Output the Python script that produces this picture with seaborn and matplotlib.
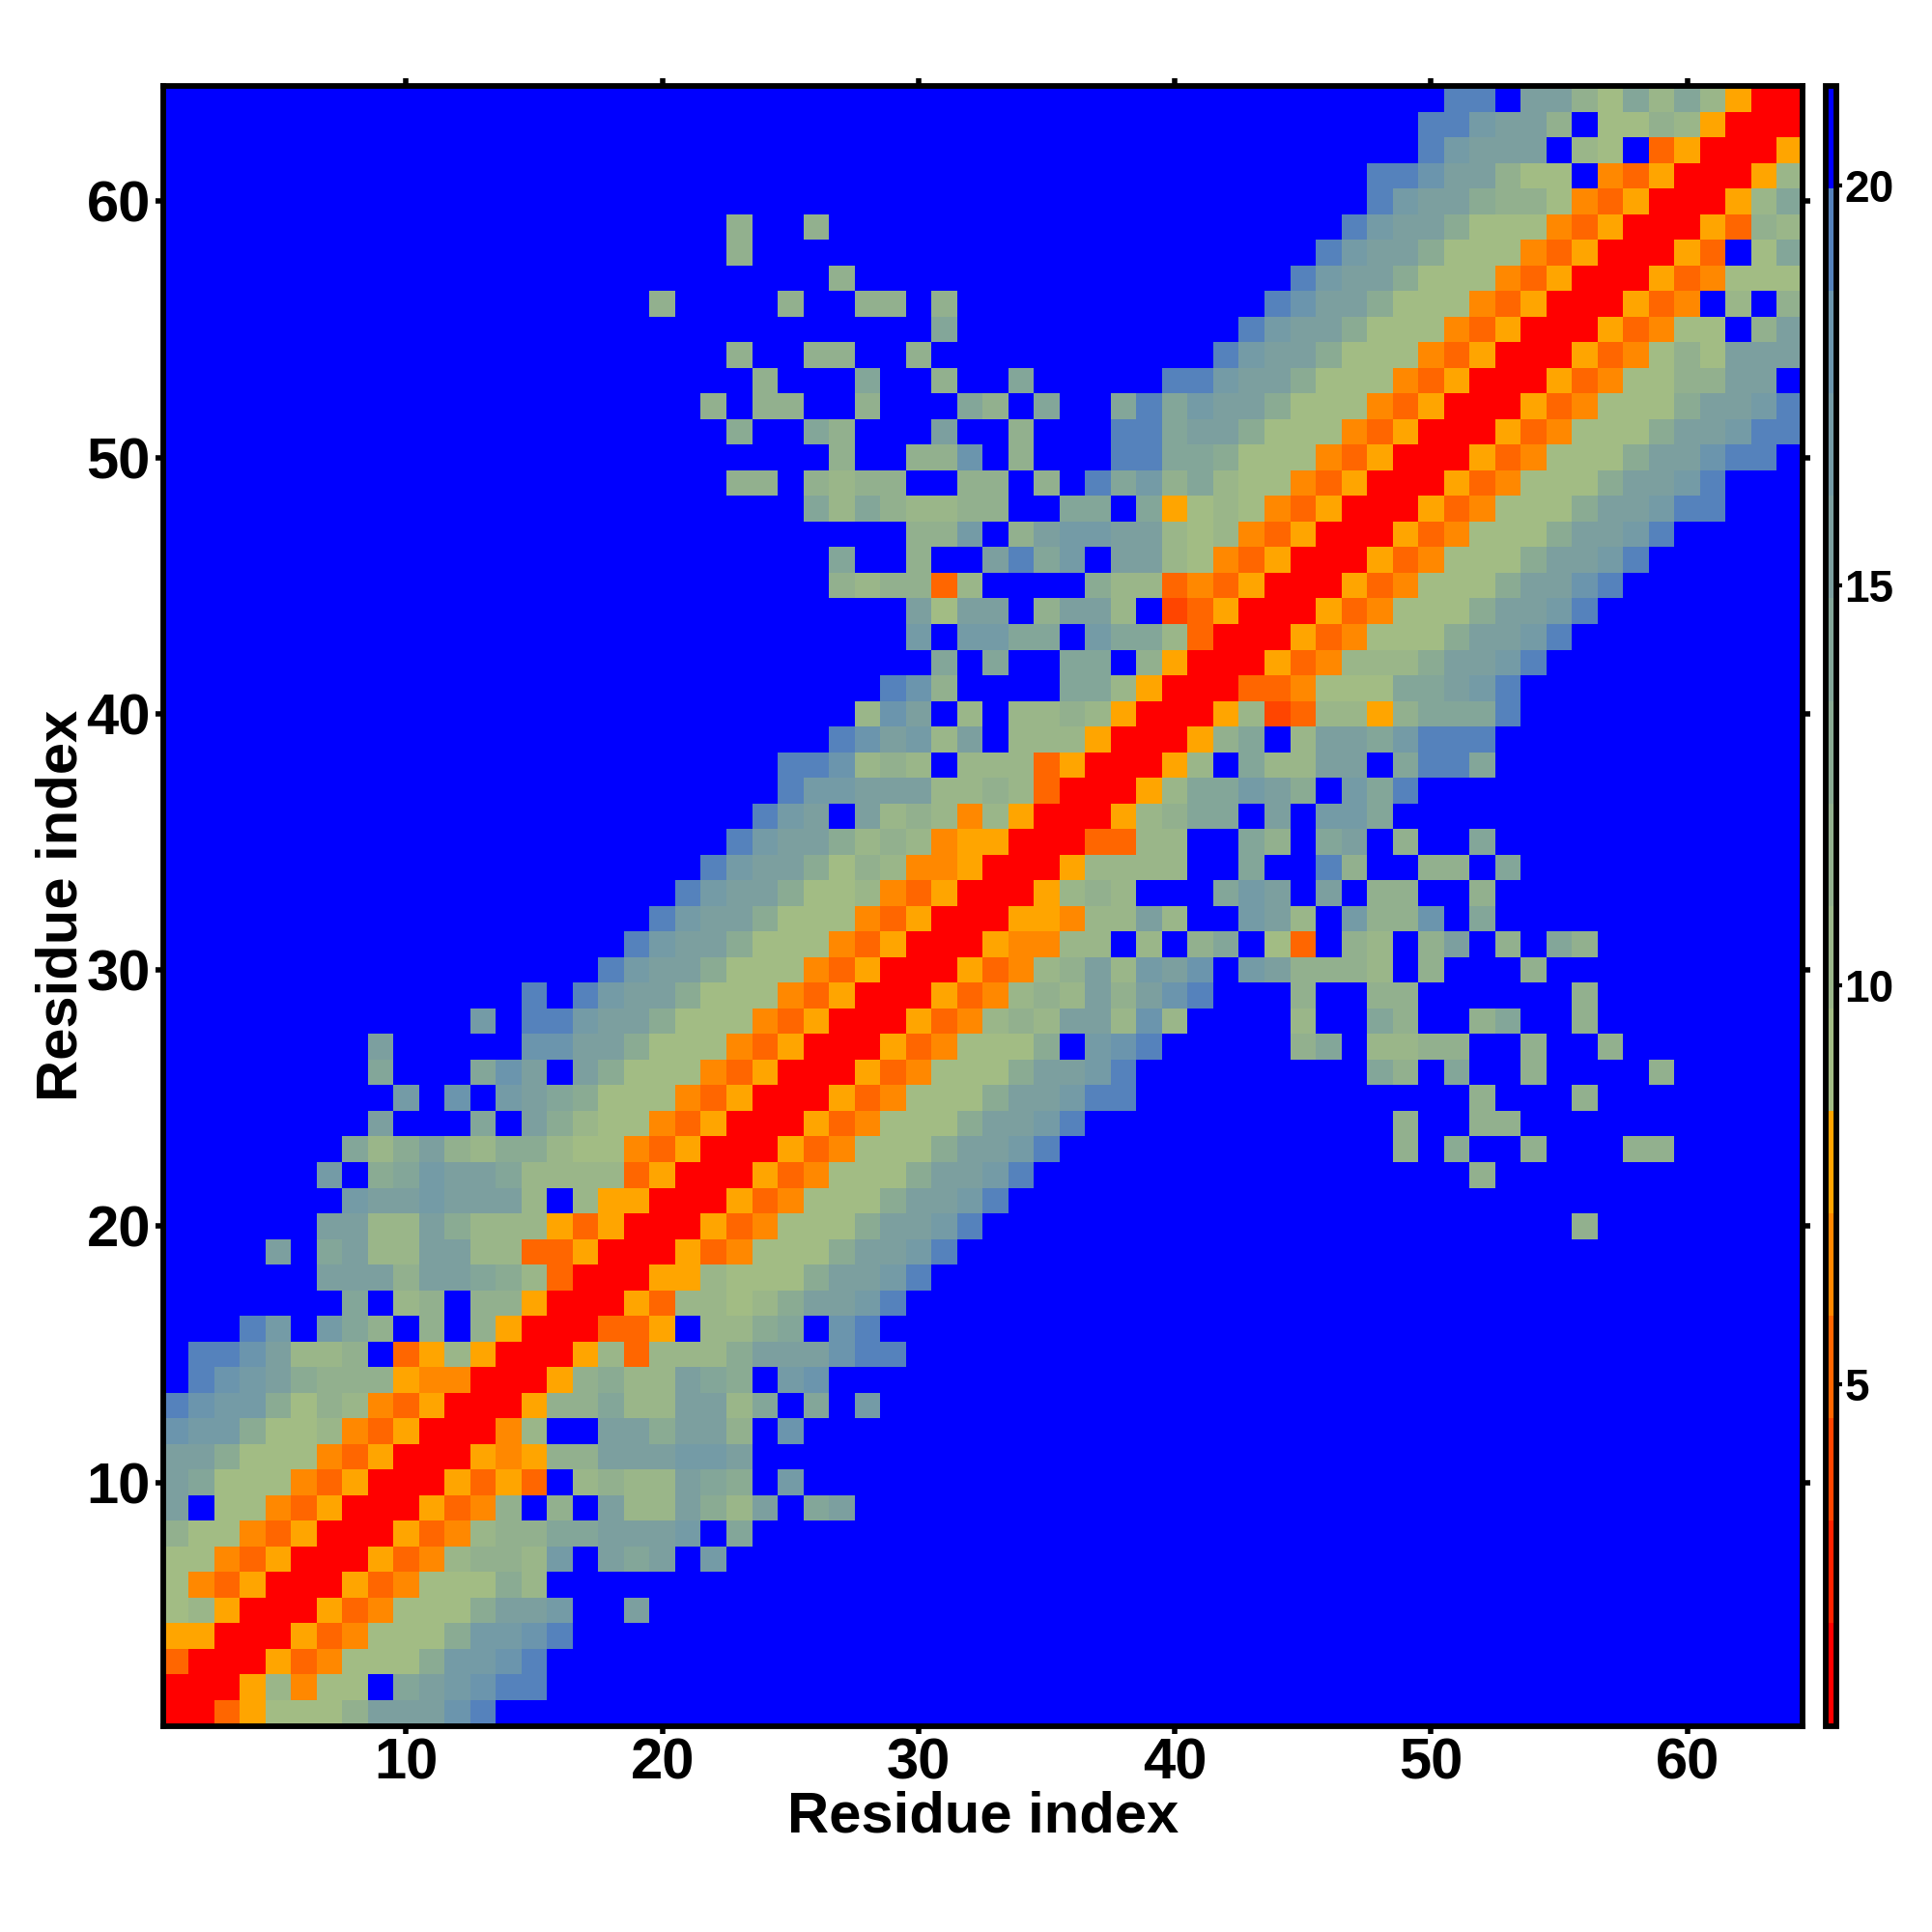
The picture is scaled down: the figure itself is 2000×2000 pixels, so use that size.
import numpy as np
import pandas as pd
import matplotlib
matplotlib.use("Agg")
import matplotlib.pyplot as plt
from matplotlib.colors import ListedColormap
import seaborn as sns

# distance at the middle of each colourbar band (hex code 0..f below)
band_values = [1.4, 2.7, 4.0, 5.3, 6.6, 7.9, 9.1, 10.4, 11.7,
               13.0, 14.3, 15.6, 16.9, 18.2, 19.5, 20.7]
band_colors = ["#ff0000", "#ff2200", "#ff4500", "#ff6600", "#ff8800", "#ffa500",
               "#a2bc84", "#9ab689", "#92b08e", "#8aab93", "#83a699", "#7c9f9f",
               "#749ba6", "#6b95ad", "#5582bc", "#0000ff"]

# map is symmetric: row i holds residues i, i+1, ... read off the picture,
# anything past the end of a string is the last (blue) band
upper_rows = [
    "00356668bbbde",
    "0057466fabcdee",
    "005346669ccde",
    "005346669ccde",
    "005346669bbcffb",
    "0053466697",
    "005347887cfbabfc",
    "00534788aabbbcfa",
    "005348f8fb77b97bfab",
    "005353f7877ba9fc",
    "0054588bbbccb",
    "0047ffbb9bb8fd",
    "00588a77bb7afafc",
    "0058977ba9fcd",
    "005737779bbbdee",
    "00335f779afde",
    "005377679bbce",
    "005576669bbce",
    "005346669bbce",
    "005346669bbcefffffffffffffffffffffff8",
    "005346669bbce",
    "005346669bbcefffffffffffffffff8",
    "005346669bbcefffffffffffff8f9ff8fff88",
    "005346669bbceffffffffffff8ff88",
    "005346669bbceefffffffffffff8fff8",
    "005346669bbcefffffffffa8faff8ffff8",
    "005346669fcdefffff8af7788ff8ff8",
    "00534787bb7d7ffff7ffa8ff8aff8",
    "00534787b8bdefff8ff88ffffff8",
    "0053478b7cbdfcb8887f8fff8",
    "0054477f7f8af63f87f8bf8fa8",
    "0055477b7ffcb7fc88dfa",
    "005787fffacbfbf88ff8",
    "0057777ffaffe8ff88fa",
    "003377ffa8fabf8ffa",
    "00578aafbfcca",
    "0057aacb9fcae",
    "0057fa77bbfaeea",
    "0058af7bbaceee",
    "0057237758aaae",
    "00334666aabce",
    "005347779bbce",
    "005346669bbce",
    "005346669bbce",
    "005346669bbde",
    "005346669bbce",
    "005346669bbce",
    "005346669bbcee",
    "005346669bbce",
    "005346669bbdee",
    "005346669bbcee",
    "005346669bbce",
    "005346688bbf",
    "00534686bbb",
    "0053466f8b",
    "00534f7f8",
    "00534666",
    "0053f6a",
    "005387",
    "0057a",
    "0057",
    "005",
    "00",
    "0",
]
residues = list(range(1, 65))
axis_ticks = [10, 20, 30, 40, 50, 60]
cbar_ticks = [5, 10, 15, 20]

grid = np.full((64, 64), band_values[-1])
for i, row in enumerate(upper_rows):
    for k, code in enumerate(row):
        grid[i, i + k] = band_values[int(code, 16)]
        grid[i + k, i] = band_values[int(code, 16)]
dist = pd.DataFrame(grid, index=residues, columns=residues)

sns.set_theme(style="ticks")
plt.rcParams["font.family"] = ["Liberation Sans", "DejaVu Sans"]
plt.rcParams["font.weight"] = "bold"

size = 2000.0
fig = plt.figure(figsize=(20, 20), dpi=100, facecolor="white")
ax = fig.add_axes([168.5 / size, 1 - 1786.5 / size, 1697.5 / size, 1697.5 / size])
cax = fig.add_axes([1889.5 / size, 1 - 1786.5 / size, 11.5 / size, 1697.5 / size])

sns.heatmap(dist, ax=ax, cbar_ax=cax, cmap=ListedColormap(band_colors),
            vmin=0.73, vmax=21.25, square=False,
            xticklabels=False, yticklabels=False,
            cbar_kws={"ticks": cbar_ticks})
ax.invert_yaxis()

ax.set_xticks([t - 0.5 for t in axis_ticks])
ax.set_yticks([t - 0.5 for t in axis_ticks])
ax.set_xticklabels(axis_ticks, rotation=0)
ax.set_yticklabels(axis_ticks, rotation=0)
ax.tick_params(axis="both", which="major", length=5.5, width=4, color="black",
               top=True, right=True, bottom=True, left=True,
               labelsize=43, pad=3.5, labelcolor="black")
for spine in ax.spines.values():
    spine.set_visible(True)
    spine.set_linewidth(4.2)
    spine.set_color("black")

ax.set_xlabel("Residue index", fontsize=43, fontweight="bold", color="black", labelpad=0)
ax.set_ylabel("Residue index", fontsize=43, fontweight="bold", color="black", labelpad=0)
ax.xaxis.set_label_coords(0.5, -0.0395)
ax.yaxis.set_label_coords(-0.0452, 0.5)

cbar = ax.collections[0].colorbar
cbar.outline.set_visible(True)
cbar.outline.set_linewidth(4.2)
cbar.outline.set_edgecolor("black")
cbar.ax.tick_params(length=4, width=3, color="black", labelsize=33, pad=2,
                    labelcolor="black")

fig.savefig("out.png", dpi=100, facecolor="white")
